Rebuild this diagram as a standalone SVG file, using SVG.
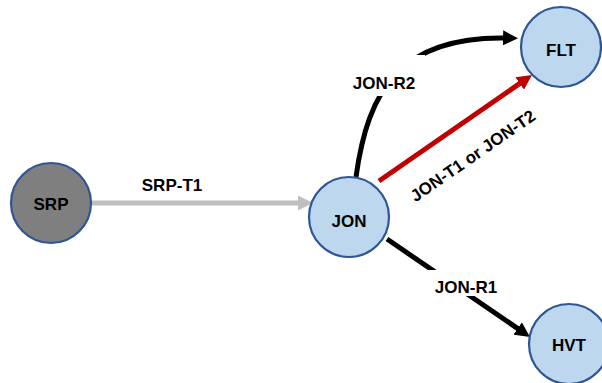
<svg xmlns="http://www.w3.org/2000/svg" width="602" height="383" viewBox="0 0 602 383">
<style>
.node{fill:#bdd7ee;stroke:#2f5597;stroke-width:2.2}
.dark{fill:#7f7f7f}
.nl{font-family:"Liberation Sans",Arial,sans-serif;font-weight:bold;font-size:17px;fill:#000;text-anchor:middle;dominant-baseline:central}
.el{font-family:"Liberation Sans",Arial,sans-serif;font-weight:bold;font-size:17px;fill:#000;text-anchor:middle;dominant-baseline:central}
.edge{fill:none;stroke-width:5}
</style>
<defs>
<marker id="ab" viewBox="0 0 10 10" refX="4" refY="5" markerWidth="3" markerHeight="3" orient="auto"><path d="M0,0 L10,5 L0,10 z" fill="#000"/></marker>
<marker id="ag" viewBox="0 0 10 10" refX="4" refY="5" markerWidth="3" markerHeight="3" orient="auto"><path d="M0,0 L10,5 L0,10 z" fill="#bfbfbf"/></marker>
<marker id="ar" viewBox="0 0 10 10" refX="4" refY="5" markerWidth="3" markerHeight="3" orient="auto"><path d="M0,0 L10,5 L0,10 z" fill="#c00000"/></marker>
</defs>
<rect width="602" height="383" fill="#fff"/>
<g id="connectors">
<line class="edge" x1="92" y1="203" x2="304" y2="203" stroke="#bfbfbf" marker-end="url(#ag)"/>
<text class="el" x="172" y="185">SRP-T1</text>
<line class="edge" x1="379" y1="181" x2="524.6" y2="80.1" stroke="#c00000" marker-end="url(#ar)"/>
<text class="el" x="473" y="156" transform="rotate(-34.7 473 156)">JON-T1 or JON-T2</text>
<path class="edge" d="M356,177 C368,90 400,35 509,38" stroke="#000" marker-end="url(#ab)"/>
<rect x="345" y="55" width="80" height="41" fill="#fff"/>
<text class="el" x="384" y="83">JON-R2</text>
<line class="edge" x1="387" y1="239" x2="522.6" y2="331.9" stroke="#000" marker-end="url(#ab)"/>
<rect x="428" y="270" width="74" height="26" fill="#fff"/>
<text class="el" x="466" y="287">JON-R1</text>
</g>
<g id="SRP"><circle class="node dark" cx="51" cy="203" r="40"/><text class="nl" x="51" y="204">SRP</text></g>
<g id="JON"><circle class="node" cx="349" cy="217" r="40"/><text class="nl" x="349" y="221">JON</text></g>
<g id="FLT"><circle class="node" cx="561" cy="47" r="40"/><text class="nl" x="561" y="50">FLT</text></g>
<g id="HVT"><circle class="node" cx="569" cy="344" r="40"/><text class="nl" x="569" y="345">HVT</text></g>
</svg>
